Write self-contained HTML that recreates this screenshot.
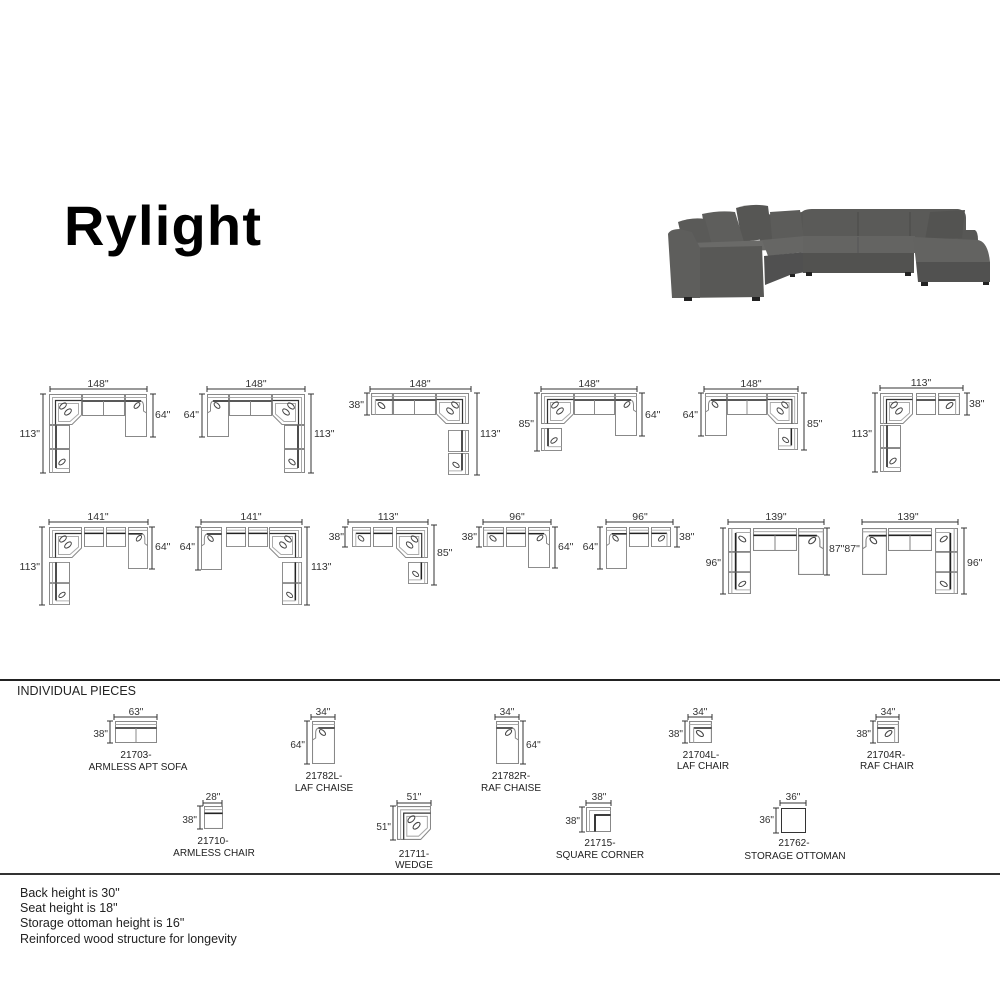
<!DOCTYPE html>
<html>
<head>
<meta charset="utf-8">
<style>
html,body{margin:0;padding:0;background:#fff;}
body{width:1000px;height:1000px;overflow:hidden;position:relative;}
svg{position:absolute;left:0;top:0;}
</style>
</head>
<body>
<svg width="1000" height="1000" viewBox="0 0 1000 1000" xmlns="http://www.w3.org/2000/svg">
<defs>
<symbol id="cn" viewBox="0 0 33 31" preserveAspectRatio="none">
 <path d="M.5 .5H32.5V21L23 30.5H.5Z" fill="none" stroke="#888"/>
 <path d="M32.5 3.5H3.5V30.5" fill="none" stroke="#aaa"/>
 <path d="M32.5 6.5H6.5V30.5" fill="none" stroke="#333" stroke-width="1.2"/>
 <path d="M9.5 9.5H29.5V20L21 27.5H9.5Z" fill="none" stroke="#aaa"/>
 <ellipse cx="14" cy="12" rx="4" ry="2.2" transform="rotate(-40 14 12)" fill="none" stroke="#444"/>
 <ellipse cx="19" cy="18" rx="4" ry="2.2" transform="rotate(-40 19 18)" fill="none" stroke="#444"/>
</symbol>
<symbol id="sf" viewBox="0 0 42 22" preserveAspectRatio="none">
 <rect x=".5" y=".5" width="41" height="21" fill="none" stroke="#888"/>
 <path d="M.5 3.5H41.5" stroke="#aaa"/>
 <path d="M.5 7H41.5" stroke="#222" stroke-width="1.6"/>
 <path d="M21 7V21.5" stroke="#888"/>
</symbol>
<symbol id="ch" viewBox="0 0 20 22" preserveAspectRatio="none">
 <rect x=".5" y=".5" width="19" height="21" fill="none" stroke="#888"/>
 <path d="M.5 3.5H19.5" stroke="#aaa"/>
 <path d="M.5 7H19.5" stroke="#222" stroke-width="1.6"/>
</symbol>
<symbol id="ca" viewBox="0 0 20 22" preserveAspectRatio="none">
 <rect x=".5" y=".5" width="19" height="21" fill="none" stroke="#888"/>
 <path d="M.5 3.5H19.5" stroke="#aaa"/>
 <path d="M.5 7H16" stroke="#222" stroke-width="1.6"/>
 <path d="M16 7V21.5" stroke="#aaa"/>
 <ellipse cx="10.5" cy="12.5" rx="3.8" ry="2" transform="rotate(-45 10.5 12.5)" fill="none" stroke="#444"/>
</symbol>
<symbol id="cz" viewBox="0 0 22 43" preserveAspectRatio="none">
 <rect x=".5" y=".5" width="21" height="42" fill="none" stroke="#888"/>
 <path d="M.5 3.5H21.5" stroke="#aaa"/>
 <path d="M.5 7H16" stroke="#222" stroke-width="1.6"/>
 <path d="M16 7Q18.5 8 18.5 12V17L21.5 19" fill="none" stroke="#888"/>
 <ellipse cx="12" cy="11.5" rx="3.6" ry="2" transform="rotate(-45 12 11.5)" fill="none" stroke="#444"/>
</symbol>
<symbol id="vc" viewBox="0 0 21 24" preserveAspectRatio="none">
 <rect x=".5" y=".5" width="20" height="23" fill="none" stroke="#888"/>
 <path d="M3.5 .5V23.5" stroke="#aaa"/>
 <path d="M7 .5V23.5" stroke="#222" stroke-width="1.6"/>
</symbol>
<symbol id="va" viewBox="0 0 21 24" preserveAspectRatio="none">
 <rect x=".5" y=".5" width="20" height="23" fill="none" stroke="#888"/>
 <path d="M3.5 .5V23.5" stroke="#aaa"/>
 <path d="M7 .5V19" stroke="#222" stroke-width="1.6"/>
 <path d="M7 19.5H20.5" stroke="#aaa"/>
 <ellipse cx="13" cy="13" rx="3.8" ry="2" transform="rotate(-40 13 13)" fill="none" stroke="#444"/>
</symbol>
<symbol id="sq" viewBox="0 0 25 25" preserveAspectRatio="none">
 <rect x=".5" y=".5" width="24" height="24" fill="none" stroke="#888"/>
 <path d="M24.5 3.5H3.5V24.5" fill="none" stroke="#aaa"/>
 <path d="M24.5 8H9V24.5" fill="none" stroke="#222" stroke-width="1.8"/>
</symbol>
</defs>

<!-- Title -->
<text x="64" y="245" font-family="Liberation Sans, Arial, sans-serif" font-weight="bold" font-size="56" letter-spacing="1.2" fill="#000">Rylight</text>

<!-- Sofa photo -->
<g>
 <path d="M800 214Q803 209 812 209L958 209Q966 210 966 218L966 240L800 240Z" fill="#5a5a58"/>
 <path d="M858 212V237M910 212V237" stroke="#4a4a48"/>
 <path d="M958 230L975 230Q978 232 978 240L978 245L958 245Z" fill="#575755"/>
 <path d="M930 212L965 210L962 238L925 240Z" fill="#535351"/>
 <path d="M760 215L803 212L803 240L760 245Z" fill="#575755"/>
 <path d="M770 212L800 210L804 238L772 240Z" fill="#5c5c5a"/>
 <path d="M736 208Q752 203 768 206L772 238L742 242Z" fill="#565654"/>
 <path d="M702 214Q720 210 735 212L745 245L708 247Z" fill="#5e5e5c"/>
 <path d="M678 222Q692 217 705 219L712 245L684 248Z" fill="#5a5a58"/>
 <path d="M690 243L770 240L775 250L700 252Z" fill="#6a6a68"/>
 <path d="M676 248L762 246L764 297L678 298Z" fill="#585856"/>
 <path d="M668 234Q670 229 680 229L692 232L700 248L700 298L672 298Z" fill="#5e5e5c"/>
 <path d="M762 240L805 236L805 252L768 256Z" fill="#666664"/>
 <path d="M764 256L805 252L805 272L790 275L765 285Z" fill="#505050"/>
 <path d="M803 236L915 236L916 253L803 253Z" fill="#646462"/>
 <path d="M858 237V253" stroke="#555"/>
 <path d="M803 253L914 253L914 273L803 273Z" fill="#525250"/>
 <path d="M913 237L978 240Q988 242 990 262L916 262Z" fill="#636361"/>
 <path d="M916 262L990 262L990 282L918 282Z" fill="#515150"/>
 <g fill="#222">
  <rect x="806" y="272" width="6" height="4"/><rect x="905" y="272" width="6" height="4"/>
  <rect x="921" y="282" width="7" height="4"/><rect x="983" y="282" width="6" height="3"/>
  <rect x="684" y="297" width="8" height="4"/><rect x="752" y="297" width="8" height="4"/>
  <rect x="790" y="274" width="5" height="3"/>
 </g>
</g>

<!-- Dimension lines -->
<path fill="none" stroke="#333" stroke-width="1" d="
M50 389H147M50 386V392M147 386V392 M43 394V473M40 394H46M40 473H46 M153 394V437M150 394H156M150 437H156
M207 389H305M207 386V392M305 386V392 M202 394V437M199 394H205M199 437H205 M311 394V473M308 394H314M308 473H314
M370 389H471M370 386V392M471 386V392 M367 393V415M364 393H370M364 415H370 M477 393V475M474 393H480M474 475H480
M541 389H637M541 386V392M637 386V392 M537 393V451M534 393H540M534 451H540 M642 393V436M639 393H645M639 436H645
M704 389H798M704 386V392M798 386V392 M701 393V436M698 393H704M698 436H704 M804 393V450M801 393H807M801 450H807
M880 388H963M880 385V391M963 385V391 M875 393V472M872 393H878M872 472H878 M967 393V415M964 393H970M964 415H970
M49 522H148M49 519V525M148 519V525 M42 527V605M39 527H45M39 605H45 M152 527V569M149 527H155M149 569H155
M201 522H302M201 519V525M302 519V525 M198 527V570M195 527H201M195 570H201 M307 527V605M304 527H310M304 605H310
M348 522H428M348 519V525M428 519V525 M345 527V547M342 527H348M342 547H348 M434 525V585M431 525H437M431 585H437
M483 522H551M483 519V525M551 519V525 M479 527V547M476 527H482M476 547H482 M555 527V568M552 527H558M552 568H558
M606 522H673M606 519V525M673 519V525 M600 527V569M597 527H603M597 569H603 M677 527V547M674 527H680M674 547H680
M728 522H824M728 519V525M824 519V525 M723 528V594M720 528H726M720 594H726 M827 528V575M824 528H830M824 575H830
M862 522H958M862 519V525M958 519V525 M964 528V594M961 528H967M961 594H967
M114 717H157M114 714V720M157 714V720 M110 721V743M107 721H113M107 743H113
M311 717H335M311 714V720M335 714V720 M307 721V764M304 721H310M304 764H310
M495 717H519M495 714V720M519 714V720 M523 721V764M520 721H526M520 764H526
M688 717H712M688 714V720M712 714V720 M685 721V743M682 721H688M682 743H688
M876 717H899M876 714V720M899 714V720 M873 721V743M870 721H876M870 743H876
M203 803H222M203 800V806M222 800V806 M200 806V829M197 806H203M197 829H203
M397 803H431M397 800V806M431 800V806 M393 806V840M390 806H396M390 840H396
M586 803H611M586 800V806M611 800V806 M582 807V832M579 807H585M579 832H585
M780 803H806M780 800V806M806 800V806 M776 808V833M773 808H779M773 833H779
"/>

<!-- Row 1 diagrams -->
<use href="#cn" x="49" y="394" width="33" height="31"/>
<use href="#sf" x="82" y="394" width="43" height="22"/>
<use href="#cz" x="125" y="394" width="22" height="43"/>
<use href="#vc" x="49" y="425" width="21" height="24"/>
<use href="#va" x="49" y="449" width="21" height="24"/>

<use href="#cz" width="22" height="43" transform="translate(229,394) scale(-1,1)"/>
<use href="#sf" x="229" y="394" width="43" height="22"/>
<use href="#cn" width="33" height="31" transform="translate(305,394) scale(-1,1)"/>
<use href="#vc" width="21" height="24" transform="translate(305,425) scale(-1,1)"/>
<use href="#va" width="21" height="24" transform="translate(305,449) scale(-1,1)"/>

<use href="#ca" width="22" height="22" transform="translate(393,393) scale(-1,1)"/>
<use href="#sf" x="393" y="393" width="43" height="22"/>
<use href="#cn" width="33" height="31" transform="translate(469,393) scale(-1,1)"/>
<use href="#vc" width="21" height="22" transform="translate(469,430) scale(-1,1)"/>
<use href="#va" width="21" height="22" transform="translate(469,453) scale(-1,1)"/>

<use href="#cn" x="541" y="393" width="33" height="31"/>
<use href="#sf" x="574" y="393" width="41" height="22"/>
<use href="#cz" x="615" y="393" width="22" height="43"/>
<use href="#va" x="541" y="428" width="21" height="23"/>

<use href="#cz" width="22" height="43" transform="translate(727,393) scale(-1,1)"/>
<use href="#sf" x="727" y="393" width="40" height="22"/>
<use href="#cn" width="31" height="31" transform="translate(798,393) scale(-1,1)"/>
<use href="#va" width="20" height="22" transform="translate(798,428) scale(-1,1)"/>

<use href="#cn" x="880" y="393" width="33" height="31"/>
<use href="#ch" x="916" y="393" width="20" height="22"/>
<use href="#ca" x="938" y="393" width="22" height="22"/>
<use href="#vc" x="880" y="425" width="21" height="23"/>
<use href="#va" x="880" y="448" width="21" height="24"/>

<!-- Row 2 diagrams -->
<use href="#cn" x="49" y="527" width="33" height="31"/>
<use href="#ch" x="84" y="527" width="20" height="20"/>
<use href="#ch" x="106" y="527" width="20" height="20"/>
<use href="#cz" x="128" y="527" width="20" height="42"/>
<use href="#vc" x="49" y="562" width="21" height="21"/>
<use href="#va" x="49" y="583" width="21" height="22"/>

<use href="#cz" width="21" height="43" transform="translate(222,527) scale(-1,1)"/>
<use href="#ch" x="226" y="527" width="20" height="20"/>
<use href="#ch" x="248" y="527" width="20" height="20"/>
<use href="#cn" width="33" height="31" transform="translate(302,527) scale(-1,1)"/>
<use href="#vc" width="20" height="21" transform="translate(302,562) scale(-1,1)"/>
<use href="#va" width="20" height="22" transform="translate(302,583) scale(-1,1)"/>

<use href="#ca" width="19" height="20" transform="translate(371,527) scale(-1,1)"/>
<use href="#ch" x="373" y="527" width="20" height="20"/>
<use href="#cn" width="32" height="31" transform="translate(428,527) scale(-1,1)"/>
<use href="#va" width="20" height="22" transform="translate(428,562) scale(-1,1)"/>

<use href="#ca" width="21" height="20" transform="translate(504,527) scale(-1,1)"/>
<use href="#ch" x="506" y="527" width="20" height="20"/>
<use href="#cz" x="528" y="527" width="22" height="41"/>

<use href="#cz" width="21" height="42" transform="translate(627,527) scale(-1,1)"/>
<use href="#ch" x="629" y="527" width="20" height="20"/>
<use href="#ca" x="651" y="527" width="20" height="20"/>

<use href="#va" width="23" height="24" transform="translate(728,552) scale(1,-1)"/>
<use href="#vc" x="728" y="552" width="23" height="20"/>
<use href="#va" x="728" y="572" width="23" height="22"/>
<use href="#sf" x="753" y="528" width="44" height="23"/>
<use href="#cz" x="798" y="528" width="26" height="47"/>

<use href="#cz" width="25" height="47" transform="translate(887,528) scale(-1,1)"/>
<use href="#sf" x="888" y="528" width="44" height="23"/>
<use href="#va" width="23" height="24" transform="translate(958,552) scale(-1,-1)"/>
<use href="#vc" width="23" height="20" transform="translate(958,552) scale(-1,1)"/>
<use href="#va" width="23" height="22" transform="translate(958,572) scale(-1,1)"/>

<!-- Dimension labels -->
<g font-family="Liberation Sans, Arial, sans-serif" font-size="10.5" fill="#333">
 <text x="98" y="387" text-anchor="middle">148"</text>
 <text x="40" y="437" text-anchor="end">113"</text>
 <text x="155" y="418">64"</text>
 <text x="256" y="387" text-anchor="middle">148"</text>
 <text x="199" y="418" text-anchor="end">64"</text>
 <text x="314" y="437">113"</text>
 <text x="420" y="387" text-anchor="middle">148"</text>
 <text x="364" y="408" text-anchor="end">38"</text>
 <text x="480" y="437">113"</text>
 <text x="589" y="387" text-anchor="middle">148"</text>
 <text x="534" y="427" text-anchor="end">85"</text>
 <text x="645" y="418">64"</text>
 <text x="751" y="387" text-anchor="middle">148"</text>
 <text x="698" y="418" text-anchor="end">64"</text>
 <text x="807" y="427">85"</text>
 <text x="921" y="386" text-anchor="middle">113"</text>
 <text x="872" y="437" text-anchor="end">113"</text>
 <text x="969" y="407">38"</text>

 <text x="98" y="520" text-anchor="middle">141"</text>
 <text x="40" y="570" text-anchor="end">113"</text>
 <text x="155" y="550">64"</text>
 <text x="251" y="520" text-anchor="middle">141"</text>
 <text x="195" y="550" text-anchor="end">64"</text>
 <text x="311" y="570">113"</text>
 <text x="388" y="520" text-anchor="middle">113"</text>
 <text x="344" y="540" text-anchor="end">38"</text>
 <text x="437" y="556">85"</text>
 <text x="517" y="520" text-anchor="middle">96"</text>
 <text x="477" y="540" text-anchor="end">38"</text>
 <text x="558" y="550">64"</text>
 <text x="640" y="520" text-anchor="middle">96"</text>
 <text x="598" y="550" text-anchor="end">64"</text>
 <text x="679" y="540">38"</text>
 <text x="776" y="520" text-anchor="middle">139"</text>
 <text x="721" y="566" text-anchor="end">96"</text>
 <text x="829" y="552">87"87"</text>
 <text x="908" y="520" text-anchor="middle">139"</text>
 <text x="967" y="566">96"</text>
</g>

<!-- Separators -->
<rect x="0" y="679" width="1000" height="2" fill="#222"/>
<rect x="0" y="873" width="1000" height="2" fill="#333"/>

<text x="17" y="695" font-family="Liberation Sans, Arial, sans-serif" font-size="12.5" fill="#222">INDIVIDUAL PIECES</text>

<!-- Individual pieces -->
<use href="#sf" x="115" y="721" width="42" height="22"/>
<use href="#cz" width="23" height="43" transform="translate(335,721) scale(-1,1)"/>
<use href="#cz" x="496" y="721" width="23" height="43"/>
<use href="#ca" width="23" height="22" transform="translate(712,721) scale(-1,1)"/>
<use href="#ca" x="877" y="721" width="22" height="22"/>
<use href="#ch" x="204" y="806" width="19" height="23"/>
<use href="#cn" x="397" y="806" width="34" height="34"/>
<use href="#sq" x="586" y="807" width="25" height="25"/>
<rect x="781.5" y="808.5" width="24" height="24" fill="none" stroke="#333"/>

<g font-family="Liberation Sans, Arial, sans-serif" font-size="10" fill="#333">
 <text x="136" y="715" text-anchor="middle">63"</text>
 <text x="108" y="737" text-anchor="end">38"</text>
 <text x="323" y="715" text-anchor="middle">34"</text>
 <text x="305" y="748" text-anchor="end">64"</text>
 <text x="507" y="715" text-anchor="middle">34"</text>
 <text x="526" y="748">64"</text>
 <text x="700" y="715" text-anchor="middle">34"</text>
 <text x="683" y="737" text-anchor="end">38"</text>
 <text x="888" y="715" text-anchor="middle">34"</text>
 <text x="871" y="737" text-anchor="end">38"</text>
 <text x="213" y="800" text-anchor="middle">28"</text>
 <text x="197" y="823" text-anchor="end">38"</text>
 <text x="414" y="800" text-anchor="middle">51"</text>
 <text x="391" y="830" text-anchor="end">51"</text>
 <text x="599" y="800" text-anchor="middle">38"</text>
 <text x="580" y="824" text-anchor="end">38"</text>
 <text x="793" y="800" text-anchor="middle">36"</text>
 <text x="774" y="823" text-anchor="end">36"</text>
</g>

<g font-family="Liberation Sans, Arial, sans-serif" font-size="10" fill="#222" text-anchor="middle">
 <text x="136" y="758">21703-</text>
 <text x="138" y="770">ARMLESS APT SOFA</text>
 <text x="324" y="779">21782L-</text>
 <text x="324" y="791">LAF CHAISE</text>
 <text x="511" y="779">21782R-</text>
 <text x="511" y="791">RAF CHAISE</text>
 <text x="701" y="758">21704L-</text>
 <text x="703" y="769">LAF CHAIR</text>
 <text x="886" y="758">21704R-</text>
 <text x="887" y="769">RAF CHAIR</text>
 <text x="213" y="844">21710-</text>
 <text x="214" y="856">ARMLESS CHAIR</text>
 <text x="414" y="857">21711-</text>
 <text x="414" y="868">WEDGE</text>
 <text x="600" y="846">21715-</text>
 <text x="600" y="858">SQUARE CORNER</text>
 <text x="794" y="846">21762-</text>
 <text x="795" y="859">STORAGE OTTOMAN</text>
</g>

<!-- Bottom notes -->
<g font-family="Liberation Sans, Arial, sans-serif" font-size="12.5" fill="#222">
 <text x="20" y="897">Back height is 30"</text>
 <text x="20" y="912">Seat height is 18"</text>
 <text x="20" y="927">Storage ottoman height is 16"</text>
 <text x="20" y="943">Reinforced wood structure for longevity</text>
</g>
</svg>
</body>
</html>
